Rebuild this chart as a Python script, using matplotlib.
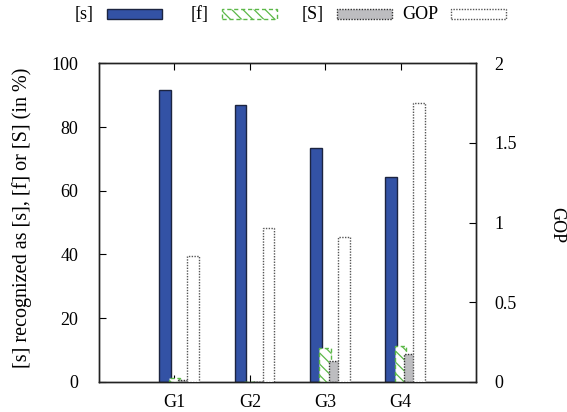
import matplotlib.pyplot as plt
import matplotlib.patches as mpatches
import numpy as np

plt.rcParams['font.family'] = ['Liberation Serif', 'DejaVu Serif']
plt.rcParams['hatch.linewidth'] = 0.9

groups = ['G1', 'G2', 'G3', 'G4']
s_vals = [91.6, 86.9, 73.5, 64.4]
f_vals = [1.3, 0.0, 10.7, 11.3]
S_vals = [0.4, 0.0, 6.5, 8.7]
gop_vals = [0.79, 0.963, 0.907, 1.75]

blue = '#3352a5'
green = '#5cb848'
gray = '#bdbdc0'
hatch = '\\\\\\'
fs = 13

fig = plt.figure(figsize=(5.67, 4.12), dpi=100)
ax = fig.add_axes([0.1746, 0.0735, 0.665, 0.7728])
ax2 = ax.twinx()

x = np.arange(1, len(groups) + 1)
step = 0.124
w = 0.155

ax.bar(x - step, s_vals, w, color=blue, edgecolor='#1c2440', linewidth=1.0, zorder=2)
ax.bar(x, f_vals, w, color='white', edgecolor=green, hatch=hatch,
       linestyle=(0, (3, 2)), linewidth=1.0, zorder=3)
ax.bar(x + step, S_vals, w, color=gray, edgecolor='#333333',
       linestyle=(0, (1, 1)), linewidth=1.0, zorder=4)
ax2.bar(x + 2 * step, gop_vals, w, color='white', edgecolor='#555555',
        linestyle=(0, (1, 1)), linewidth=1.0, zorder=5)

ax.set_xlim(0, 5)
ax.set_ylim(0, 100)
ax2.set_ylim(0, 2)
ax.set_xticks(x)
ax.set_xticklabels(groups)
ax.set_yticks([0, 20, 40, 60, 80, 100])
ax2.set_yticks([0, 0.5, 1, 1.5, 2])
ax2.set_yticklabels(['0', '0.5', '1', '1.5', '2'])

ax.tick_params(axis='x', direction='in', length=5, top=True, labelsize=fs, pad=9)
ax.tick_params(axis='y', direction='in', length=5, right=False, labelsize=fs, pad=15)
ax2.tick_params(axis='y', direction='in', length=5, labelsize=fs, pad=13)
for a in (ax, ax2):
    for sp in a.spines.values():
        sp.set_linewidth(1.0)
        sp.set_color('#222222')

fig.text(22 / 567, 1 - 218 / 412, '[s] recognized as [s], [f] or [S] (in %)',
         rotation=90, ha='center', va='center', fontsize=14.5)
fig.text(557 / 567, 1 - 225 / 412, 'GOP', rotation=-90,
         ha='center', va='center', fontsize=fs)

# legend drawn by hand along the top
labels = ['[s]', '[f]', '[S]', 'GOP']
box_left = [107, 222, 337, 451]
styles = [
    dict(facecolor=blue, edgecolor='#1c2440', linewidth=1.0),
    dict(facecolor='white', edgecolor=green, hatch=hatch, linestyle=(0, (3, 2)), linewidth=1.0),
    dict(facecolor=gray, edgecolor='#333333', linestyle=(0, (1, 1)), linewidth=1.0),
    dict(facecolor='white', edgecolor='#555555', linestyle=(0, (1, 1)), linewidth=1.0),
]
for lab, bl, st in zip(labels, box_left, styles):
    fig.text((bl - 13) / 567, 1 - 14.5 / 412, lab, ha='right', va='center', fontsize=fs)
    r = mpatches.Rectangle((bl / 567, 1 - 19.3 / 412), 55 / 567, 10 / 412,
                           transform=fig.transFigure, **st)
    fig.add_artist(r)

fig.savefig('out.png', dpi=100)
